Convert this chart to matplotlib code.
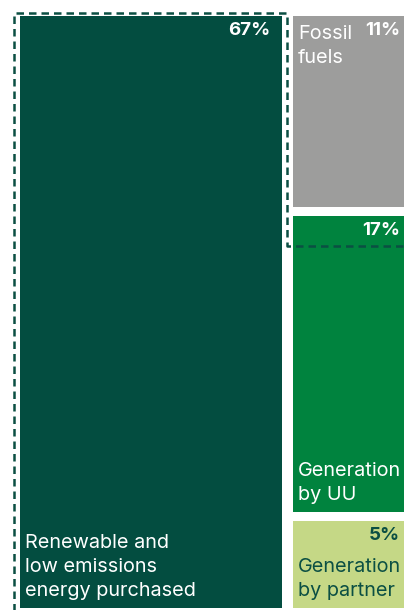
import matplotlib.pyplot as plt
from matplotlib.patches import Rectangle

labels = ["Renewable and\nlow emissions\nenergy purchased", "Fossil\nfuels",
          "Generation\nby UU", "Generation\nby partner"]
shares = [67, 11, 17, 5]
colors = ["#034d40", "#9d9d9c", "#00833e", "#c5d886"]
text_colors = ["white", "white", "white", "#0b4f43"]

plt.rcParams['font.family'] = ['Inter', 'DejaVu Sans']

fig = plt.figure(figsize=(4.04, 6.10), dpi=100)
ax = fig.add_axes([0, 0, 1, 1])
ax.set_xlim(0, 404)
ax.set_ylim(610, 0)
ax.axis("off")

# treemap layout (pixels), right column runs past the crop
x0, y0 = 20, 16
total_w, total_h = 402, 592
gap_x, gap_y = 11, 9

left_w = (total_w - gap_x) * shares[0] / sum(shares)
right_w = total_w - gap_x - left_w
right_x = x0 + left_w + gap_x
rest = shares[1:]
avail_h = total_h - gap_y * (len(rest) - 1)

boxes = [(x0, y0, left_w, total_h)]
y = y0
for s in rest:
    h = avail_h * s / sum(rest)
    boxes.append((right_x, y, right_w, h))
    y += h + gap_y

for i, (bx, by, bw, bh) in enumerate(boxes):
    ax.add_patch(Rectangle((bx, by), bw, bh, facecolor=colors[i], edgecolor="none"))
    px = min(bx + bw - 12, 400)
    ax.text(px, by + 6, f"{shares[i]}%", ha="right", va="top", fontsize=13.5,
            fontweight="bold", color=text_colors[i])
    if i == 1:
        ax.text(bx + 5, by + 9, labels[i], ha="left", va="top", fontsize=14.3,
                color=text_colors[i], linespacing=1.42)
    else:
        ax.text(bx + 5, by + bh - 8, labels[i], ha="left", va="bottom", fontsize=14.3,
                color=text_colors[i], linespacing=1.42)

# dashed outline around renewable share
uu = boxes[2]
ox = [x0 - 6, x0 - 6, x0 + left_w + 5, x0 + left_w + 5, 420]
oy = [620, y0 - 3, y0 - 3, uu[1] + 29.5, uu[1] + 29.5]
ax.plot(ox, oy, color="#0b4f43", lw=1.8, linestyle=(0, (3, 2)))

fig.savefig("out.png", dpi=100)
